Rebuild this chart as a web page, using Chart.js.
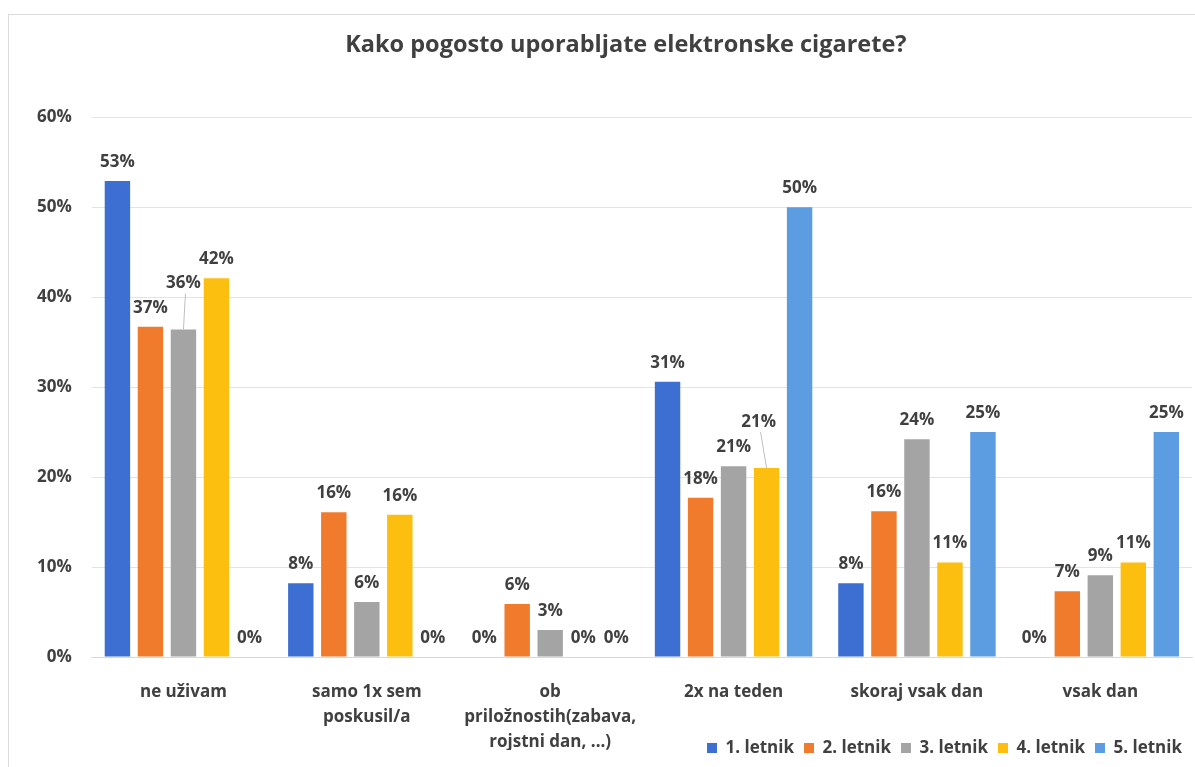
<!DOCTYPE html>
<html>
<head>
<meta charset="utf-8">
<script src="https://cdn.jsdelivr.net/npm/chart.js@4.4.1/dist/chart.umd.min.js"></script>
<style>
  html, body { margin: 0; padding: 0; background: #fff; }
  #wrap { position: relative; width: 1195px; height: 767px; overflow: hidden; }
  #frame { position: absolute; left: 8px; top: 14px; width: 1200px; height: 800px;
           border: 1px solid #dcdcdc; box-sizing: border-box; pointer-events: none; }
</style>
</head>
<body>
<div id="wrap">
  <canvas id="graf" width="1195" height="767"></canvas>
  <div id="frame"></div>
</div>
<script>
// Podatki
const kategorije = [
    "ne uživam",
    ["samo 1x sem", "poskusil/a"],
    ["ob", "priložnostih(zabava,", "rojstni dan, ...)"],
    "2x na teden",
    "skoraj vsak dan",
    "vsak dan"
];
const letnik1 = [52.9, 8.2, 0, 30.6, 8.2, 0];
const letnik2 = [36.7, 16.1, 5.9, 17.7, 16.2, 7.3];
const letnik3 = [36.4, 6.1, 3.0, 21.2, 24.2, 9.1];
const letnik4 = [42.1, 15.8, 0, 21.0, 10.5, 10.5];
const letnik5 = [0, 0, 0, 50, 25, 25];
const yTicks = [0, 10, 20, 30, 40, 50, 60];

const FONT = "'Open Sans', 'DejaVu Sans', sans-serif";
const TEXT = "#404040";

// Oznake nad stolpci (namesto datalabels vticnika)
const oznakePlugin = {
    id: "oznake",
    afterLayout(chart) {
        // legenda naj bo tik pod zadnjo vrstico oznak osi x
        const lg = chart.legend;
        const h = lg.bottom - lg.top;
        lg.top = 748 - h / 2;
        lg.bottom = lg.top + h;
        // naslov je centriran nad obmocjem grafa
        const t = chart.titleBlock;
        const shift = (chart.chartArea.left + chart.chartArea.right) / 2 - (t.left + t.right) / 2 - 16;
        t.left += shift;
        t.right += shift;
    },
    afterDatasetsDraw(chart, args, opts) {
        const ctx = chart.ctx;
        ctx.save();
        ctx.font = "bold 17px " + FONT;
        ctx.fillStyle = TEXT;
        ctx.textAlign = "center";
        ctx.textBaseline = "middle";
        chart.data.datasets.forEach((ds, di) => {
            const meta = chart.getDatasetMeta(di);
            meta.data.forEach((bar, i) => {
                const val = ds.data[i];
                let x = bar.x, y = bar.y - 19;
                const pomik = (opts.pomiki || []).find(p => p.ds === di && p.i === i);
                if (pomik) {
                    x += pomik.dx || 0;
                    y += pomik.dy || 0;
                    // crta do stolpca
                    ctx.strokeStyle = "#bfbfbf";
                    ctx.lineWidth = 1;
                    ctx.beginPath();
                    ctx.moveTo(x + 2, y + 10);
                    ctx.lineTo(bar.x, bar.y);
                    ctx.stroke();
                }
                ctx.fillText(Math.round(val) + "%", x, y);
            });
        });
        ctx.restore();
    }
};

function stolpec(label, data, color) {
    return {
        label: label,
        data: data,
        backgroundColor: color,
        borderWidth: 0,
        categoryPercentage: 0.9,
        barPercentage: 0.77
    };
}

const ctx = document.getElementById("graf").getContext("2d");
new Chart(ctx, {
    type: "bar",
    data: {
        labels: kategorije,
        datasets: [
            stolpec("1. letnik", letnik1, "#3d6fd2"),
            stolpec("2. letnik", letnik2, "#f07b2d"),
            stolpec("3. letnik", letnik3, "#a4a4a4"),
            stolpec("4. letnik", letnik4, "#fcbf10"),
            stolpec("5. letnik", letnik5, "#5b9de0")
        ]
    },
    plugins: [oznakePlugin],
    options: {
        responsive: false,
        animation: false,
        layout: { padding: { left: 17, right: 3, top: 0, bottom: -20 } },
        plugins: {
            title: {
                display: true,
                text: "Kako pogosto uporabljate elektronske cigarete?",
                color: TEXT,
                font: { family: FONT, size: 23.5, weight: "bold", lineHeight: 1.2 },
                padding: { top: 31, bottom: 58 }
            },
            legend: {
                position: "bottom",
                align: "end",
                labels: {
                    color: TEXT,
                    font: { family: FONT, size: 17, weight: "bold" },
                    boxWidth: 10,
                    boxHeight: 10,
                    padding: 10
                }
            },
            tooltip: { enabled: false },
            oznake: {
                pomiki: [
                    { ds: 2, i: 0, dy: -27 },
                    { ds: 3, i: 3, dy: -27, dx: -8 }
                ]
            }
        },
        scales: {
            x: {
                grid: { display: false },
                border: { color: "#d9d9d9" },
                ticks: {
                    color: TEXT,
                    padding: 15,
                    maxRotation: 0,
                    autoSkip: false,
                    font: { family: FONT, size: 17, weight: "bold", lineHeight: "25px" }
                },
                afterFit(scale) { scale.height = 93; }
            },
            y: {
                min: 0,
                max: 60,
                afterBuildTicks(scale) { scale.ticks = yTicks.map(v => ({ value: v })); },
                grid: { color: "#e3e3e3", drawTicks: false },
                border: { display: false },
                ticks: {
                    color: TEXT,
                    padding: 20,
                    font: { family: FONT, size: 17, weight: "bold" },
                    callback: v => v + "%"
                }
            }
        }
    }
});
</script>
</body>
</html>
